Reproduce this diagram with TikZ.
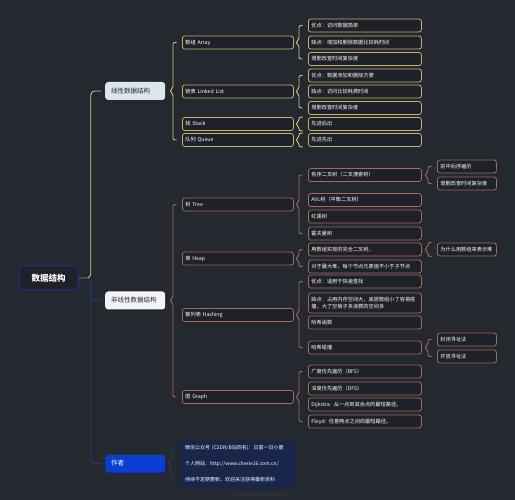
\documentclass[tikz,border=0pt]{standalone}
\usepackage{fontspec}
\setmainfont{Noto Sans CJK SC}
\usetikzlibrary{calc}
\definecolor{bg}{HTML}{24282F}
\definecolor{boxbg}{HTML}{1E2127}
\definecolor{linB}{HTML}{C4B26C}
\definecolor{linBr}{HTML}{D9C673}
\definecolor{nonB}{HTML}{A36A5E}
\definecolor{navyline}{HTML}{26397A}
\definecolor{rootB}{HTML}{1F2C66}
\definecolor{authfill}{HTML}{0A3DD0}
\definecolor{authblock}{HTML}{17264A}
\definecolor{authbr}{HTML}{2C3C66}
\definecolor{lightA}{HTML}{DDE5EE}
\definecolor{lightB}{HTML}{F2F4F7}
\definecolor{wmcol}{HTML}{3A404C}
\newcommand\brc[4]{\draw[#1] ($(#3)+(-5.5,0)$) -- ($(#3)+(-9,0)$) -- ($(#2.east -| #3)+(-9,-2.5)$) -- ($(#2.east -| #3)+(-12.5,0)$) -- ($(#2.east -| #3)+(-9,2.5)$) -- ($(#4)+(-9,0)$) -- ($(#4)+(-5.5,0)$);}
\begin{document}
\begin{tikzpicture}[x=1pt,y=-1pt,
  box/.style={rounded corners=2.5pt, line width=0.8pt, fill=boxbg, text=white,
    font=\fontsize{5.2}{6.4}\selectfont, anchor=west, align=left,
    inner xsep=3pt, inner ysep=1pt, minimum height=13pt},
  ltwo/.style={box, text width=105pt},
  lthree/.style={box, text width=107pt},
  lfour/.style={box, text width=53pt},
  lin/.style={draw=linB},
  non/.style={draw=nonB},
  linbr/.style={draw=linBr, line width=0.9pt, rounded corners=2pt},
  nonbr/.style={draw=nonB, line width=0.9pt, rounded corners=2pt},
  authbrs/.style={draw=authbr, line width=0.9pt, rounded corners=2pt},
  topic/.style={rounded corners=3pt, anchor=west, align=left, minimum width=60pt,
    minimum height=18pt, inner xsep=6pt, text width=48pt,
    font=\fontsize{6.5}{7.5}\selectfont},
  auth/.style={anchor=west, align=left, text=white, text width=108pt, inner xsep=5pt,
    minimum height=16pt, inner ysep=0pt, font=\fontsize{5}{6}\selectfont}
]
\fill[bg] (0,0) rectangle (515,500);
\useasboundingbox (0,0) rectangle (515,500);

% root
\node[draw=rootB, line width=1.5pt, fill=boxbg, rounded corners=3pt, text=white,
  minimum width=59pt, minimum height=24pt, font=\fontsize{8.5}{10}\selectfont\bfseries]
  (root) at (48.5,278) {数据结构};

% level 1
\node[topic, fill=lightA, text=black!85] (lin) at (105,91) {线性数据结构};
\node[topic, fill=lightB, text=black!85] (non) at (105,300.5) {非线性数据结构};
\node[topic, fill=authfill, text=white] (auth) at (105,463.5) {作者};

\draw[linBr, line width=0.9pt, rounded corners=4pt, shorten >=4pt] (root.east) -- ($(root.east)+(12,0)$) |- (lin.west);
\draw[navyline, line width=0.9pt, rounded corners=4pt, shorten >=4pt] (root.east) -- ($(root.east)+(12,0)$) |- (non.west);
\draw[navyline, line width=0.9pt, rounded corners=4pt, shorten >=4pt] (root.east) -- ($(root.east)+(12,0)$) |- (auth.west);

% linear level 2
\node[ltwo, lin] (arr) at (182,42.5) {数组 Array};
\node[ltwo, lin] (ll) at (182,91.5) {链表 Linked List};
\node[ltwo, lin] (stk) at (182,124) {栈 Stack};
\node[ltwo, lin] (que) at (182,140) {队列 Queue};
\brc{linbr}{lin}{arr.west}{que.west}

% linear level 3
\node[lthree, lin] (a1) at (308,25.5) {优点：访问数据简单};
\node[lthree, lin] (a2) at (308,42.5) {缺点：增加和删除数据比较耗时间};
\node[lthree, lin] (a3) at (308,59) {增删改查时间复杂度};
\node[lthree, lin] (l1) at (308,75.5) {优点：数据添加和删除方便};
\node[lthree, lin] (l2) at (308,91.5) {缺点：访问比较耗费时间};
\node[lthree, lin] (l3) at (308,108) {增删改查时间复杂度};
\node[lthree, lin] (s1) at (308,124) {先进后出};
\node[lthree, lin] (q1) at (308,140) {先进先出};
\brc{linbr}{arr}{a1.west}{a3.west}
\brc{linbr}{ll}{l1.west}{l3.west}
\brc{linbr}{stk}{s1.north west}{s1.south west}
\brc{linbr}{que}{q1.north west}{q1.south west}

% non-linear level 2
\node[ltwo, non] (tree) at (182,204.5) {树 Tree};
\node[ltwo, non] (heap) at (182,258.5) {堆 Heap};
\node[ltwo, non] (hash) at (182,315) {散列表 Hashing};
\node[ltwo, non] (graph) at (182,397) {图 Graph};
\brc{nonbr}{non}{tree.west}{graph.west}

% non-linear level 3
\node[lthree, non] (t1) at (308,175) {有序二叉树（二叉搜索树）};
\node[lthree, non] (t2) at (308,200) {AVL树（平衡二叉树）};
\node[lthree, non] (t3) at (308,216.5) {红黑树};
\node[lthree, non] (t4) at (308,233.5) {霍夫曼树};
\node[lthree, non] (h1) at (308,249.5) {用数组实现的完全二叉树。};
\node[lthree, non] (h2) at (308,266.5) {对于最大堆，每个节点元素值不小于子节点};
\node[lthree, non] (hs1) at (308,281.5) {优点：适用于快速查找};
\node[lthree, non, minimum height=20pt] (hs2) at (308,303) {缺点：占用内存空间大，底层数组小了容易碰\\撞，大了空格子多浪费的空间多};
\node[lthree, non] (hs3) at (308,322.5) {哈希函数};
\node[lthree, non] (hs4) at (308,347.5) {哈希碰撞};
\node[lthree, non] (g1) at (308,371.5) {广度优先遍历（BFS）};
\node[lthree, non] (g2) at (308,388.5) {深度优先遍历（DFS）};
\node[lthree, non] (g3) at (308,404.5) {Dijkstra: 从一点到其余点的最短路径。};
\node[lthree, non] (g4) at (308,421.5) {Floyd: 任意两点之间的最短路径。};
\brc{nonbr}{tree}{t1.west}{t4.west}
\brc{nonbr}{heap}{h1.west}{h2.west}
\brc{nonbr}{hash}{hs1.west}{hs4.west}
\brc{nonbr}{graph}{g1.west}{g4.west}

% non-linear level 4
\node[lfour, non] (tt1) at (437,166.5) {前中后序遍历};
\node[lfour, non] (tt2) at (437,183.5) {增删改查时间复杂度};
\node[lfour, non] (hh1) at (437,249.5) {为什么用数组来表示堆};
\node[lfour, non] (c1) at (437,339.5) {封闭寻址法};
\node[lfour, non] (c2) at (437,356.5) {开放寻址法};
\brc{nonbr}{t1}{tt1.west}{tt2.west}
\brc{nonbr}{h1}{hh1.north west}{hh1.south west}
\brc{nonbr}{hs4}{c1.west}{c2.west}

% author
\fill[authblock, rounded corners=3pt] (180,440) rectangle (296,488);
\node[auth] (w1) at (180,448) {微信公众号 (CSDN/B站同名)：日富一日小晨};
\node[auth] (w2) at (180,464) {个人网站：http://www.cherie16.com.cn/};
\node[auth] (w3) at (180,480) {持续不定期更新，欢迎关注获得最新资料};
\brc{authbrs}{auth}{w1.west}{w3.west}

\node[text=wmcol, font=\fontsize{5}{6}\selectfont] (wm) at (260,495) {Produced with xmind};
\end{tikzpicture}
\end{document}
